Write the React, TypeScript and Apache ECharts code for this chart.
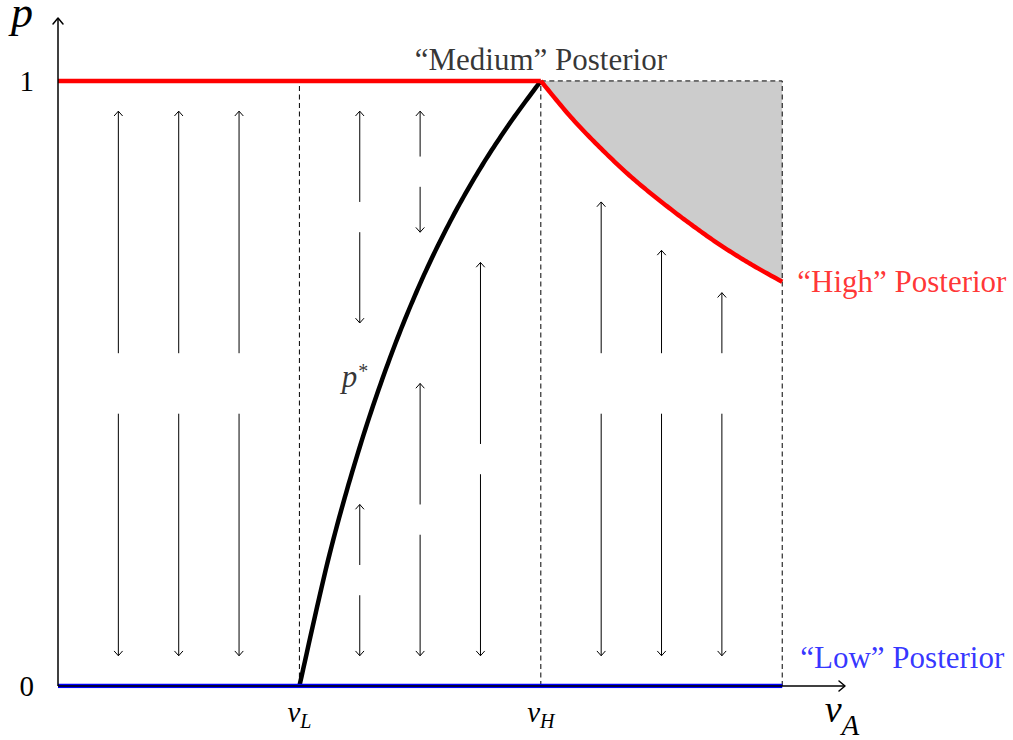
import React, { useEffect, useRef } from "react";
import * as echarts from "echarts";

// ---- axis extents and ticks ----
const X_MAX = 3.26;
const Y_MAX = 1.104;
const xTickValues = [1, 2];
const xTickSubs = ["L", "H"];
const yTickValues = [0, 1];

// ---- curves ----
const pStarX = [1, 1.125, 1.25, 1.375, 1.5, 1.625, 1.75, 1.875, 2];
const pStarY = [0, 0.218, 0.395, 0.542, 0.665, 0.768, 0.856, 0.932, 1];

const highX = [2, 2.125, 2.25, 2.375, 2.5, 2.625, 2.75, 2.875, 3];
const highY = [1, 0.94, 0.888, 0.841, 0.8, 0.762, 0.727, 0.696, 0.668];

const mediumLine = [
  [0, 1],
  [2, 1],
];
const lowLine = [
  [0, 0],
  [3, 0],
];

// ---- dashed guides [x1, y1, x2, y2] ----
const dashedSegments = [
  [1, 0, 1, 1],
  [2, 0, 2, 1],
  [3, 0, 3, 1],
  [2, 1, 3, 1],
];

// ---- vector-field arrows [x, from, to] ----
const arrows = [
  [0.25, 0.55, 0.95], [0.25, 0.45, 0.05],
  [0.5, 0.55, 0.95], [0.5, 0.45, 0.05],
  [0.75, 0.55, 0.95], [0.75, 0.45, 0.05],
  [1.25, 0.8, 0.95], [1.25, 0.75, 0.6], [1.25, 0.2, 0.3], [1.25, 0.15, 0.05],
  [1.5, 0.875, 0.95], [1.5, 0.825, 0.75], [1.5, 0.3, 0.5], [1.5, 0.25, 0.05],
  [1.75, 0.4, 0.7], [1.75, 0.35, 0.05],
  [2.25, 0.55, 0.8], [2.25, 0.45, 0.05],
  [2.5, 0.55, 0.72], [2.5, 0.45, 0.05],
  [2.75, 0.55, 0.65], [2.75, 0.45, 0.05],
];

// ---- texts ----
const mediumLabel = "\u201CMedium\u201D Posterior";
const highLabel = "\u201CHigh\u201D Posterior";
const lowLabel = "\u201CLow\u201D Posterior";

const FONT = "'Liberation Serif', 'DejaVu Serif', serif";

// Catmull-Rom spline through pixel points, rendered as a dense polyline
function splinePixels(pts: number[][]): number[][] {
  const out: number[][] = [];
  const n = pts.length;
  for (let i = 0; i < n - 1; i++) {
    const p0 = pts[i - 1] || pts[i];
    const p1 = pts[i];
    const p2 = pts[i + 1];
    const p3 = pts[i + 2] || pts[i + 1];
    const c1 = [p1[0] + (p2[0] - p0[0]) / 6, p1[1] + (p2[1] - p0[1]) / 6];
    const c2 = [p2[0] - (p3[0] - p1[0]) / 6, p2[1] - (p3[1] - p1[1]) / 6];
    const steps = 16;
    for (let s = i === 0 ? 0 : 1; s <= steps; s++) {
      const t = s / steps;
      const m = 1 - t;
      const x = m * m * m * p1[0] + 3 * m * m * t * c1[0] + 3 * m * t * t * c2[0] + t * t * t * p2[0];
      const y = m * m * m * p1[1] + 3 * m * m * t * c1[1] + 3 * m * t * t * c2[1] + t * t * t * p2[1];
      out.push([x, y]);
    }
  }
  return out;
}

function curveSeries(xs: number[], ys: number[], color: string, width: number, z: number) {
  return {
    type: "custom",
    z,
    silent: true,
    data: [[xs[0], ys[0]]],
    renderItem: (params: any, api: any) => {
      const px = xs.map((x, i) => api.coord([x, ys[i]]));
      return {
        type: "polyline",
        shape: { points: splinePixels(px) },
        style: { stroke: color, fill: "none", lineWidth: width, lineJoin: "round", lineCap: "butt" },
      };
    },
  };
}

function arrowRender(headLen: number, headHalf: number, lineWidth: number) {
  return (params: any, api: any) => {
    const a = api.coord([api.value(0), api.value(1)]);
    const b = api.coord([api.value(2), api.value(3)]);
    const dx = b[0] - a[0];
    const dy = b[1] - a[1];
    const L = Math.hypot(dx, dy) || 1;
    const ux = dx / L;
    const uy = dy / L;
    const nx = -uy;
    const ny = ux;
    const bx = b[0] - ux * headLen;
    const by = b[1] - uy * headLen;
    return {
      type: "group",
      children: [
        {
          type: "line",
          shape: { x1: a[0], y1: a[1], x2: b[0], y2: b[1] },
          style: { stroke: "#000", lineWidth },
        },
        {
          type: "polyline",
          shape: {
            points: [
              [bx + nx * headHalf, by + ny * headHalf],
              [b[0], b[1]],
              [bx - nx * headHalf, by - ny * headHalf],
            ],
          },
          style: { stroke: "#000", fill: "none", lineWidth, lineJoin: "round", lineCap: "round" },
        },
      ],
    };
  };
}

export default function App() {
  const ref = useRef<HTMLDivElement>(null);

  useEffect(() => {
    if (!ref.current) return;
    const chart = echarts.init(ref.current, null, { renderer: "svg" });

    const arrowData = arrows.map(([x, f, t]) => [x, f, x, t]);

    const option: any = {
      animation: false,
      backgroundColor: "#fff",
      textStyle: { fontFamily: FONT },
      grid: {
        left: 58,
        right: 1013 - 845,
        top: 18,
        bottom: 740 - 686,
        containLabel: false,
        outerBoundsMode: "none",
      },
      xAxis: {
        type: "value",
        min: 0,
        max: X_MAX,
        interval: 1,
        axisLine: { show: false },
        axisTick: { show: false },
        splitLine: { show: false },
        name: "{v|v}{s|A}",
        nameLocation: "end",
        nameGap: -3,
        nameTextStyle: {
          align: "center",
          verticalAlign: "top",
          padding: [4, 0, 0, 0],
          rich: {
            v: { fontFamily: FONT, fontStyle: "italic", fontSize: 38, lineHeight: 40, verticalAlign: "top", color: "#000" },
            s: { fontFamily: FONT, fontStyle: "italic", fontSize: 29, lineHeight: 30, padding: [20, 0, 0, 0], verticalAlign: "top", color: "#000" },
          },
        },
        axisLabel: {
          margin: 11,
          formatter: (v: number) => {
            const i = xTickValues.indexOf(v);
            return i >= 0 ? `{v|v}{s|${xTickSubs[i]}}` : "";
          },
          rich: {
            v: { fontFamily: FONT, fontStyle: "italic", fontSize: 29, lineHeight: 30, verticalAlign: "top", color: "#000" },
            s: { fontFamily: FONT, fontStyle: "italic", fontSize: 20, lineHeight: 20, padding: [14, 0, 0, 0], verticalAlign: "top", color: "#000" },
          },
        },
      },
      yAxis: {
        type: "value",
        min: 0,
        max: Y_MAX,
        interval: 1,
        axisLine: { show: false },
        axisTick: { show: false },
        splitLine: { show: false },
        name: "p",
        nameLocation: "end",
        nameGap: 6,
        nameTextStyle: {
          fontFamily: FONT,
          fontStyle: "italic",
          fontSize: 44,
          lineHeight: 24,
          color: "#000",
          align: "right",
          verticalAlign: "middle",
          padding: [0, 25, 0, 0],
        },
        axisLabel: {
          margin: 24,
          fontFamily: FONT,
          fontSize: 29,
          color: "#000",
          formatter: (v: number) => (yTickValues.indexOf(v) >= 0 ? String(v) : ""),
        },
      },
      series: [
        {
          // shaded region between "High" posterior and p = 1
          type: "custom",
          z: 1,
          data: [[highX[highX.length - 1], 1]],
          renderItem: (params: any, api: any) => {
            const px = highX.map((x, i) => api.coord([x, highY[i]]));
            const pts = splinePixels(px);
            pts.push(api.coord([highX[highX.length - 1], 1]));
            return {
              type: "polygon",
              shape: { points: pts },
              style: { fill: "#cccccc", stroke: "none" },
            };
          },
          silent: true,
        },
        {
          type: "custom",
          z: 2,
          data: dashedSegments,
          renderItem: (params: any, api: any) => {
            const a = api.coord([api.value(0), api.value(1)]);
            const b = api.coord([api.value(2), api.value(3)]);
            return {
              type: "line",
              shape: { x1: a[0], y1: a[1], x2: b[0], y2: b[1] },
              style: { stroke: "#000", lineWidth: 1, lineDash: [5, 3.5] },
            };
          },
          silent: true,
        },
        {
          type: "custom",
          z: 2,
          data: arrowData,
          renderItem: arrowRender(4.5, 4, 1),
          silent: true,
        },
        curveSeries(pStarX, pStarY, "#000", 4.5, 3),
        {
          type: "line",
          z: 4,
          data: mediumLine,
          showSymbol: false,
          symbol: "none",
          lineStyle: { color: "#ff0000", width: 4.5 },
          silent: true,
        },
        curveSeries(highX, highY, "#ff0000", 4.5, 4),
        {
          type: "line",
          z: 4,
          data: lowLine,
          showSymbol: false,
          symbol: "none",
          lineStyle: { color: "#0000ff", width: 4.5 },
          silent: true,
        },
        {
          // axes with open arrow heads
          type: "custom",
          z: 5,
          data: [
            [0, 0, X_MAX, 0],
            [0, 0, 0, Y_MAX],
          ],
          renderItem: arrowRender(6, 5, 1.5),
          silent: true,
        },
        {
          type: "scatter",
          z: 6,
          symbolSize: 1,
          itemStyle: { color: "rgba(0,0,0,0)" },
          silent: true,
          label: {
            show: true,
            position: "inside",
            fontFamily: FONT,
            fontSize: 31,
            color: "#000",
          },
          data: [
            { value: [2, 1], label: { formatter: mediumLabel, offset: [0, -21] } },
            {
              value: [highX[highX.length - 1], highY[highY.length - 1]],
              label: { formatter: highLabel, align: "left", offset: [15, 0], color: "#ff0000" },
            },
            {
              value: lowLine[1],
              label: { formatter: lowLabel, align: "left", offset: [18, -29], color: "#0000ff" },
            },
            {
              value: [pStarX[3], pStarY[3]],
              label: {
                formatter: "{p|p}{s|*}",
                offset: [-35, 20],
                rich: {
                  p: { fontFamily: FONT, fontStyle: "italic", fontSize: 31, lineHeight: 34, verticalAlign: "top", color: "#000" },
                  s: { fontFamily: FONT, fontSize: 20, lineHeight: 20, verticalAlign: "top", color: "#000", padding: [0, 0, 0, 1] },
                },
              },
            },
          ],
        },
      ],
    };

    chart.setOption(option);
    return () => chart.dispose();
  }, []);

  return (
    <div
      ref={ref}
      style={{ position: "absolute", left: 0, top: 0, width: 1013, height: 740, background: "#fff" }}
    />
  );
}
